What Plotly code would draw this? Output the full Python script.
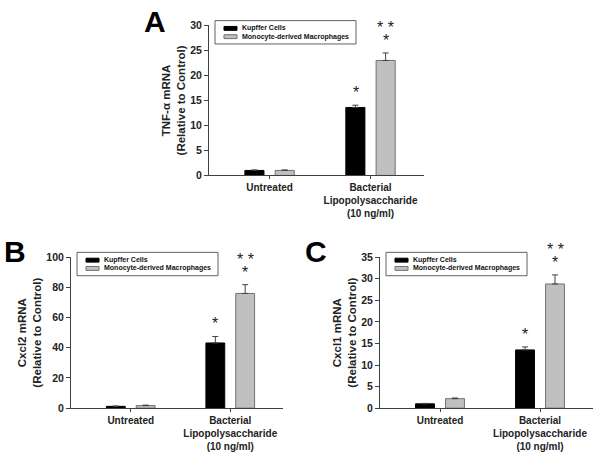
import plotly.graph_objects as go

# Data
categories = ["Untreated", "Bacterial<br>Lipopolysaccharide<br>(10 ng/ml)"]
series_names = ["Kupffer Cells", "Monocyte-derived Macrophages"]

tnf_kc = [1.0, 13.6]
tnf_kc_err = [0.1, 0.45]
tnf_mdm = [1.0, 23.0]
tnf_mdm_err = [0.1, 1.5]

cxcl2_kc = [1.2, 43.2]
cxcl2_kc_err = [0.2, 4.3]
cxcl2_mdm = [1.7, 76.0]
cxcl2_mdm_err = [0.3, 5.8]

cxcl1_kc = [1.0, 13.5]
cxcl1_kc_err = [0.1, 0.7]
cxcl1_mdm = [2.2, 28.8]
cxcl1_mdm_err = [0.15, 2.1]

# significance marks: (text, category index, series index)
sig_marks = [("*", 1, 0), ("*", 1, 1), ("* *", 1, 1)]

W, H = 600, 457

# pixel boxes of each plot area: left, right, top, bottom
panels = [
    dict(key="", letter="A", ytitle="TNF-α mRNA<br>(Relative to Control)",
         kc=tnf_kc, kc_err=tnf_kc_err, mdm=tnf_mdm, mdm_err=tnf_mdm_err,
         ymax=30, dtick=5, px=(209, 424, 20, 174), letter_xy=(142, 16)),
    dict(key="2", letter="B", ytitle="Cxcl2 mRNA<br>(Relative to Control)",
         kc=cxcl2_kc, kc_err=cxcl2_kc_err, mdm=cxcl2_mdm, mdm_err=cxcl2_mdm_err,
         ymax=100, dtick=20, px=(71, 283, 258, 413), letter_xy=(2, 252)),
    dict(key="3", letter="C", ytitle="Cxcl1 mRNA<br>(Relative to Control)",
         kc=cxcl1_kc, kc_err=cxcl1_kc_err, mdm=cxcl1_mdm, mdm_err=cxcl1_mdm_err,
         ymax=35, dtick=5, px=(380, 593, 258, 413), letter_xy=(303, 252)),
]

FONT = "Liberation Sans"
AXIS_COL = "#404040"
TXT_COL = "#222222"
KC_FILL, KC_EDGE = "black", "black"
MDM_FILL, MDM_EDGE = "#c0c0c0", "#707070"


def px_x(v):
    return v / W


def px_y(v):
    return 1 - v / H


fig = go.Figure()
layout = {}
annotations = []
shapes = []

for p in panels:
    k = p["key"]
    xa = "x" + k
    ya = "y" + k
    left, right, top, bottom = p["px"]
    for name, vals, errs, fill, edge in [
        (series_names[0], p["kc"], p["kc_err"], KC_FILL, KC_EDGE),
        (series_names[1], p["mdm"], p["mdm_err"], MDM_FILL, MDM_EDGE),
    ]:
        fig.add_trace(go.Bar(
            x=categories, y=vals, name=name,
            xaxis=xa, yaxis=ya, showlegend=False,
            marker=dict(color=fill, line=dict(color=edge, width=1)),
            error_y=dict(type="data", array=errs, arrayminus=[0] * len(errs),
                         symmetric=False, color="#404040", thickness=1, width=3),
        ))

    layout["xaxis" + k] = dict(
        domain=[px_x(left), px_x(right)], anchor=ya, range=[-0.6, 1.53],
        showline=True, linecolor=AXIS_COL, linewidth=1,
        ticks="outside", ticklen=3, tickcolor=AXIS_COL,
        tickfont=dict(family=FONT, size=10, color=TXT_COL, weight="bold"),
        showgrid=False, fixedrange=True,
    )
    layout["yaxis" + k] = dict(
        domain=[px_y(bottom), px_y(top)], anchor=xa,
        range=[0, p["ymax"]], dtick=p["dtick"],
        showline=True, linecolor=AXIS_COL, linewidth=1,
        ticks="outside", ticklen=4, tickcolor=AXIS_COL,
        tickfont=dict(family=FONT, size=10.5, color=TXT_COL, weight="bold"),
        title=dict(text="<b>" + p["ytitle"] + "</b>",
                   font=dict(family=FONT, size=11.5, color=TXT_COL), standoff=2),
        showgrid=False, zeroline=False, fixedrange=True,
    )

    # hand-built legend box (compact, like the original)
    bx0, by0 = left + 6, top - 5
    bx1, by1 = bx0 + 141, by0 + 24
    shapes.append(dict(type="rect", xref="paper", yref="paper",
                       x0=px_x(bx0), x1=px_x(bx1), y0=px_y(by1), y1=px_y(by0),
                       line=dict(color="#606060", width=1), fillcolor="white"))
    for i, (name, fill, edge) in enumerate([
        (series_names[0], KC_FILL, KC_EDGE),
        (series_names[1], MDM_FILL, MDM_EDGE),
    ]):
        cy = by0 + 8 + i * 8.5
        shapes.append(dict(type="rect", xref="paper", yref="paper",
                           x0=px_x(bx0 + 9), x1=px_x(bx0 + 22),
                           y0=px_y(cy + 2), y1=px_y(cy - 2),
                           line=dict(color=edge, width=1), fillcolor=fill))
        annotations.append(dict(
            text="<b>" + name + "</b>", xref="paper", yref="paper",
            x=px_x(bx0 + 25), y=px_y(cy), xanchor="left", yanchor="middle",
            showarrow=False, font=dict(family=FONT, size=7, color="#111"),
        ))

    # panel letter
    lx, ly = p["letter_xy"]
    annotations.append(dict(
        text="<b>" + p["letter"] + "</b>", xref="paper", yref="paper",
        x=px_x(lx), y=px_y(ly), xanchor="left", yanchor="middle",
        showarrow=False, font=dict(family=FONT, size=30, color="black"),
    ))

    # significance asterisks
    tops_kc = [v + e for v, e in zip(p["kc"], p["kc_err"])]
    tops_mdm = [v + e for v, e in zip(p["mdm"], p["mdm_err"])]
    for text, ci, si in sig_marks:
        top_val = tops_kc[ci] if si == 0 else tops_mdm[ci]
        shift = 2 if text == "*" else 15
        annotations.append(dict(
            text=text, xref=xa, yref=ya,
            x=categories[ci], y=top_val, xshift=-15 if si == 0 else 15,
            yshift=shift, yanchor="bottom", showarrow=False,
            font=dict(family=FONT, size=16, color=TXT_COL),
        ))

fig.update_layout(
    width=W, height=H,
    margin=dict(l=0, r=0, t=0, b=0),
    paper_bgcolor="white", plot_bgcolor="white",
    barmode="group", bargap=0.4, bargroupgap=0.37,
    font=dict(family=FONT, color=TXT_COL),
    showlegend=False,
    annotations=annotations,
    shapes=shapes,
    **layout,
)

fig.write_html("out.html", config={"displayModeBar": False},
               post_script="document.body.style.margin='0';")
